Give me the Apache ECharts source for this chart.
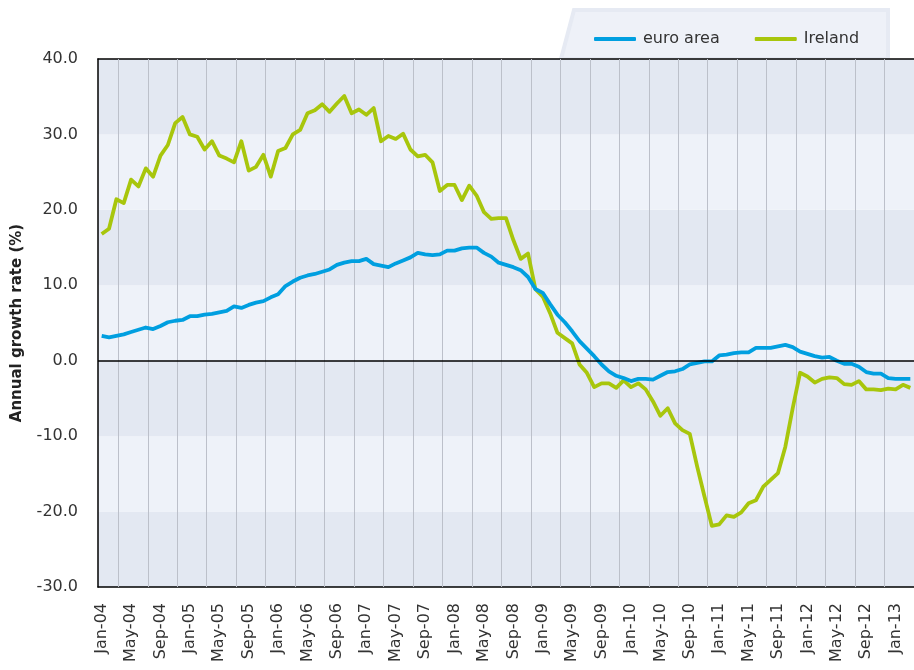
<!DOCTYPE html>
<html>
<head>
<meta charset="utf-8">
<script src="https://cdn.jsdelivr.net/npm/echarts@6/dist/echarts.min.js"></script>
<style>
  html, body { margin: 0; padding: 0; background: #ffffff; }
  #chart { width: 914px; height: 670px; }
</style>
</head>
<body>
<div id="chart"></div>
<script>
// Monthly periods, Jan-04 .. Mar-13
const monthNames = ['Jan', 'Feb', 'Mar', 'Apr', 'May', 'Jun', 'Jul', 'Aug', 'Sep', 'Oct', 'Nov', 'Dec'];
const years = ['04', '05', '06', '07', '08', '09', '10', '11', '12', '13'];
const lastYearMonths = 3;

// Annual growth rate (%), euro area
const euroArea = [
  3.3, 3.1, 3.3, 3.5, 3.8, 4.1, 4.4, 4.2, 4.6, 5.1, 5.3, 5.4,
  5.9, 5.9, 6.1, 6.2, 6.4, 6.6, 7.2, 7.0, 7.4, 7.7, 7.9, 8.4,
  8.8, 9.9, 10.5, 11.0, 11.3, 11.5, 11.8, 12.1, 12.7, 13.0, 13.2, 13.2,
  13.5, 12.8, 12.6, 12.4, 12.9, 13.3, 13.7, 14.3, 14.1, 14.0, 14.1, 14.6,
  14.6, 14.9, 15.0, 15.0, 14.3, 13.8, 13.0, 12.7, 12.4, 12.0, 11.1, 9.5,
  9.0, 7.5, 6.1, 5.1, 3.9, 2.6, 1.6, 0.6, -0.5, -1.4, -2.0, -2.3,
  -2.7, -2.4, -2.4, -2.5, -2.0, -1.5, -1.4, -1.1, -0.5, -0.3, -0.1, -0.1,
  0.7, 0.8, 1.0, 1.1, 1.1, 1.7, 1.7, 1.7, 1.9, 2.1, 1.8, 1.2,
  0.9, 0.6, 0.4, 0.5, 0.0, -0.4, -0.4, -0.8, -1.5, -1.7, -1.7, -2.3,
  -2.4, -2.4, -2.4
];

// Annual growth rate (%), Ireland
const ireland = [
  16.8, 17.5, 21.4, 20.9, 24.0, 23.1, 25.5, 24.4, 27.2, 28.6, 31.5, 32.3,
  30.0, 29.7, 28.0, 29.1, 27.2, 26.8, 26.3, 29.1, 25.2, 25.7, 27.3, 24.4,
  27.8, 28.2, 30.0, 30.6, 32.8, 33.2, 34.0, 33.0, 34.1, 35.1, 32.8, 33.3,
  32.6, 33.5, 29.1, 29.8, 29.4, 30.1, 28.0, 27.1, 27.3, 26.3, 22.5, 23.3,
  23.3, 21.3, 23.2, 21.9, 19.7, 18.8, 18.9, 18.9, 16.0, 13.5, 14.2, 9.5,
  8.5, 6.3, 3.7, 3.0, 2.3, -0.5, -1.6, -3.5, -3.0, -3.0, -3.6, -2.6,
  -3.5, -3.0, -3.8, -5.4, -7.3, -6.3, -8.3, -9.2, -9.7, -14.0, -18.0, -21.9,
  -21.7, -20.5, -20.7, -20.1, -18.9, -18.5, -16.7, -15.8, -14.9, -11.4, -6.3, -1.6,
  -2.1, -2.9, -2.4, -2.2, -2.3, -3.1, -3.2, -2.7, -3.8, -3.8, -3.9, -3.7,
  -3.8, -3.2, -3.6
];

// Y axis range and step
const yMin = -30, yMax = 40, yStep = 10;

const categories = [];
years.forEach((yy, k) => {
  const n = (k === years.length - 1) ? lastYearMonths : 12;
  for (let m = 0; m < n; m++) categories.push(monthNames[m] + '-' + yy);
});

const FONT = '"DejaVu Sans", sans-serif';
const TEXT = '#333333';

// plot geometry
const plotLeft = 98, plotTop = 59, plotHeight = 528;
const monthStep = 7.4;
const plotWidth = categories.length * monthStep;
const gridLineStart = 118.3;   // first vertical divider
const dividerMonths = 4;
const dividerCount = 27;       // dividers spaced every four months

const chart = echarts.init(document.getElementById('chart'), null, { renderer: 'canvas' });

chart.setOption({
  animation: false,
  backgroundColor: '#ffffff',
  textStyle: { fontFamily: FONT },
  graphic: [{
    type: 'polygon',
    z: -1,
    shape: { points: [[561, 59], [574, 10], [888, 10], [888, 59]] },
    style: { fill: '#eef1f8', stroke: '#e6eaf3', lineWidth: 4 }
  }],
  legend: {
    data: [
      { name: 'euro area', icon: 'roundRect' },
      { name: 'Ireland', icon: 'roundRect' }
    ],
    left: 589,
    top: 26,
    itemWidth: 42,
    itemHeight: 4,
    itemGap: 35,
    textStyle: { fontFamily: FONT, fontSize: 16, color: TEXT, padding: [0, 0, 0, 2] }
  },
  grid: [
    { left: plotLeft, top: plotTop, width: plotWidth, height: plotHeight, containLabel: false },
    { left: gridLineStart, top: plotTop, width: dividerCount * dividerMonths * monthStep, height: plotHeight, containLabel: false }
  ],
  xAxis: [
    {
      type: 'category',
      gridIndex: 0,
      data: categories,
      boundaryGap: true,
      axisLine: { onZero: false, lineStyle: { color: '#000000', width: 1.5 } },
      axisTick: { show: false },
      splitLine: { show: false },
      axisLabel: {
        interval: dividerMonths - 1,
        rotate: 90,
        margin: 16,
        fontFamily: FONT,
        fontSize: 16,
        color: TEXT
      }
    },
    {
      type: 'value',
      gridIndex: 1,
      min: 0,
      max: dividerCount * dividerMonths,
      interval: dividerMonths,
      z: 1,
      axisLine: { show: false },
      axisTick: { show: false },
      axisLabel: { show: false },
      splitLine: { show: true, lineStyle: { color: '#bcc0ca', width: 1 } }
    },
    {
      type: 'value',
      gridIndex: 0,
      position: 'top',
      min: 0,
      max: 1,
      axisLine: { show: true, onZero: false, lineStyle: { color: '#000000', width: 1.5 } },
      axisTick: { show: false },
      axisLabel: { show: false },
      splitLine: { show: false }
    }
  ],
  yAxis: [
    {
      type: 'value',
      gridIndex: 0,
      min: yMin,
      max: yMax,
      interval: yStep,
      name: 'Annual growth rate (%)',
      nameLocation: 'middle',
      nameRotate: 90,
      nameGap: 73,
      nameTextStyle: { fontFamily: FONT, fontSize: 15, fontWeight: 'bold', color: '#222222' },
      axisLine: { show: true, onZero: false, lineStyle: { color: '#000000', width: 1.5 } },
      axisTick: { show: false },
      axisLabel: {
        margin: 20,
        fontFamily: FONT,
        fontSize: 16,
        color: TEXT,
        formatter: v => v.toFixed(1)
      },
      splitLine: { show: false },
      splitArea: { show: true, areaStyle: { color: ['#e3e8f2', '#eef2f9'] } }
    },
    {
      type: 'value',
      gridIndex: 1,
      min: yMin,
      max: yMax,
      show: false
    }
  ],
  series: [
    {
      name: 'zero',
      type: 'line',
      xAxisIndex: 0,
      yAxisIndex: 0,
      data: [],
      z: 1,
      silent: true,
      markLine: {
        silent: true,
        symbol: ['none', 'none'],
        label: { show: false },
        lineStyle: { color: '#000000', width: 1.5, type: 'solid' },
        data: [{ yAxis: 0 }]
      }
    },
    {
      name: 'euro area',
      type: 'line',
      data: euroArea,
      showSymbol: false,
      color: '#009fe0',
      lineStyle: { width: 3.8, color: '#009fe0', join: 'round' },
      z: 3
    },
    {
      name: 'Ireland',
      type: 'line',
      data: ireland,
      showSymbol: false,
      color: '#a8c60c',
      lineStyle: { width: 3.8, color: '#a8c60c', join: 'round' },
      z: 2
    }
  ]
});
</script>
</body>
</html>
